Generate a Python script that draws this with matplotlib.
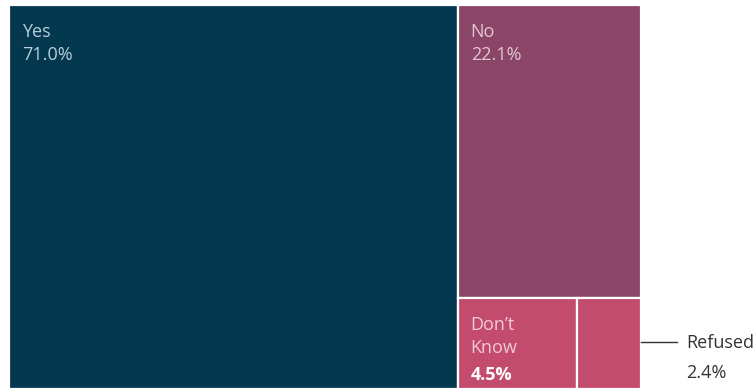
import matplotlib.pyplot as plt
from matplotlib.patches import Rectangle

# survey answers, share of respondents (%)
labels = ['Yes', 'No', "Don\u2019t\nKnow", 'Refused']
values = [71.0, 22.1, 4.5, 2.4]
colors = ['#03384f', '#8b4566', '#c34b6e', '#c34b6e']
text_colors = ['#b8cedb', '#e3c6d5', '#f2cadb', '#333333']

plt.rcParams['font.family'] = ['Open Sans', 'DejaVu Sans']

fig = plt.figure(figsize=(7.55, 3.9), dpi=100)
ax = fig.add_axes([9 / 755, 1 - 389 / 390, 632 / 755, 384 / 390])
ax.set_xlim(0, 632)
ax.set_ylim(384, 0)
ax.axis('off')

total = sum(values)
# Yes takes a full-height column, the rest is stacked on the right
W, H = 632, 384
w_yes = W * values[0] / total
rest = total - values[0]
h_no = H * values[1] / rest
small = values[2] + values[3]
w_dk = (W - w_yes) * values[2] / small

rects = [
    (0, 0, w_yes, H),
    (w_yes, 0, W - w_yes, h_no),
    (w_yes, h_no, w_dk, H - h_no),
    (w_yes + w_dk, h_no, W - w_yes - w_dk, H - h_no),
]
for (x, y, w, h), c in zip(rects, colors):
    ax.add_patch(Rectangle((x, y), w, h, facecolor=c, edgecolor='white', linewidth=1.6))

fs = 13
for i in range(3):
    x, y, w, h = rects[i]
    lines = labels[i].split('\n')
    ty = y + 18
    for ln in lines:
        ax.text(x + 13, ty, ln, color=text_colors[i], fontsize=fs, va='top', ha='left')
        ty += 23.5
    if i < 2:
        ax.text(x + 13, ty, f'{values[i]:.1f}%', color=text_colors[i],
                fontsize=fs, va='top', ha='left')
    else:
        ax.text(x + 13, ty + 3, f'{values[i]:.1f}%', color='white',
                fontsize=fs, fontweight='bold', va='top', ha='left')

# leader line and label for the smallest box
x, y, w, h = rects[3]
ly = 337
ax.plot([x + w, x + w + 36], [ly, ly], color='#333333', linewidth=1, clip_on=False)
ax.text(x + w + 45, ly + 1, labels[3], color=text_colors[3], fontsize=fs,
        va='center', ha='left', clip_on=False)
ax.text(x + w + 45, ly + 31, f'{values[3]:.1f}%', color=text_colors[3],
        fontsize=fs, va='center', ha='left', clip_on=False)

fig.savefig('out.png', dpi=100)
